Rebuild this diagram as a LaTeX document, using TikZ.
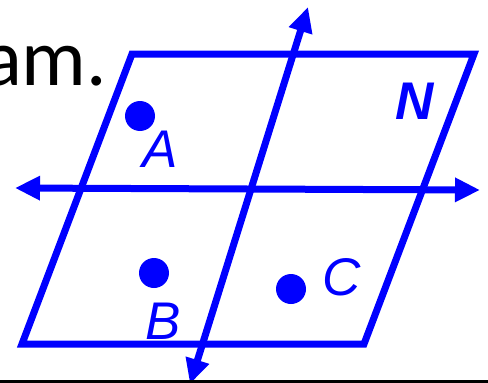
\documentclass[tikz,border=0pt]{standalone}
\usepackage{fontspec}
\setmainfont{Liberation Sans}
\newfontfamily\calfont{Carlito}
\usetikzlibrary{arrows.meta}
\definecolor{pblue}{RGB}{0,0,255}
\begin{document}
\begin{tikzpicture}[x=1pt,y=-1pt,
  edge/.style={draw=pblue,line width=7pt},
  dbl/.style={pblue,line width=7pt,{Triangle[length=25pt,width=23pt]}-{Triangle[length=25pt,width=23pt]}},
  dot/.style={circle,fill=pblue,inner sep=0pt,minimum size=30pt},
  lbl/.style={inner sep=0pt,text=pblue,font=\fontsize{53}{60}\selectfont\itshape}]
\useasboundingbox (0,0) rectangle (488,383);
\coordinate (p1) at (132,54);
\coordinate (p2) at (474,54);
\coordinate (p3) at (364,344);
\coordinate (p4) at (22,344);
\draw[edge] (p1) -- (p2) -- (p3) -- (p4) -- cycle;
\coordinate (h1) at (15,188);
\coordinate (h2) at (480,190);
\draw[dbl] (h1) -- (h2);
\coordinate (v1) at (308,7);
\coordinate (v2) at (190,384);
\draw[dbl] (v1) -- (v2);
\node[dot] (A) at (140,116) {};
\node[dot] (B) at (154,273) {};
\node[dot] (C) at (291,289) {};
\node[lbl] (lA) at (160,149) {A};
\node[lbl] (lB) at (163,321) {B};
\node[lbl] (lC) at (342,277) {C};
\node[lbl,font=\fontsize{53}{60}\selectfont\bfseries\itshape] (lN) at (415,101) {N};
\node[inner sep=0pt,anchor=base west,font=\calfont\fontsize{81}{90}\selectfont] (txt) at (-17,85) {am.};
\coordinate (b1) at (0,381.5);
\coordinate (b2) at (488,381.5);
\draw[black,line width=3pt] (b1) -- (b2);
\end{tikzpicture}
\end{document}
